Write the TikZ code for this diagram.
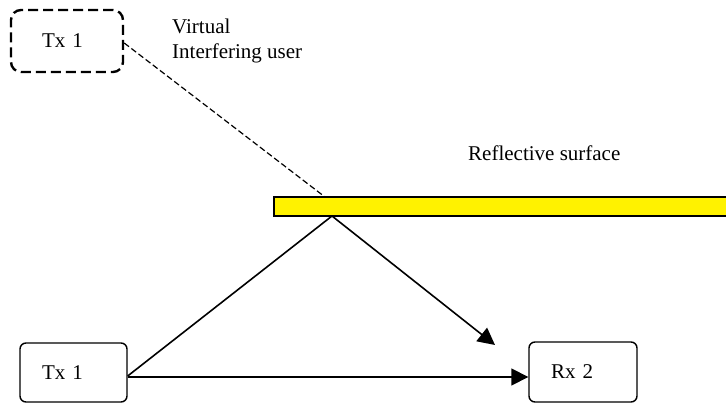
\documentclass[tikz,border=0pt]{standalone}
\usepackage{fontspec}
\setmainfont{Liberation Serif}
\usetikzlibrary{arrows.meta}

\tikzset{
  station/.style={draw, line width=1.4pt, rounded corners=6pt, align=left,
    inner xsep=22pt, inner ysep=0pt, font=\fontsize{21}{25}\selectfont},
  ghost/.style={draw, line width=2.4pt, dash pattern=on 10pt off 5pt,
    rounded corners=10pt, align=left, inner xsep=31pt, inner ysep=0pt,
    font=\fontsize{21}{25}\selectfont},
  caption/.style={inner sep=0pt, align=left, font=\fontsize{21}{25}\selectfont},
  ray/.style={line width=1.6pt},
  dir/.style={ray, -{Triangle[length=17pt, width=17pt]}},
  mirror/.style={fill=yellow, draw=black, line width=1.4pt}
}

\begin{document}
\begin{tikzpicture}[x=1pt, y=-1pt]
  \useasboundingbox (0,0) rectangle (726,403);

  % reflective surface (runs off the right edge)
  \fill[yellow] (274,197) rectangle (726,216);
  \draw[line width=1.4pt] (726,197) -- (274,197) -- (274,216) -- (726,216);
  \coordinate (refl) at (332,216);
  \coordinate (hit) at (325,197);
  \coordinate (rxin) at (495,345);

  % transmitters, receiver and the mirrored transmitter
  \node[station, minimum width=107pt, minimum height=59pt, text width=63pt]
    (tx) at (73.5,372.5) {Tx 1};
  \node[station, minimum width=108pt, minimum height=60pt, text width=64pt]
    (rx) at (583,372) {Rx 2};
  \node[ghost, minimum width=112pt, minimum height=62pt, text width=50pt]
    (vtx) at (67,41) {Tx 1};

  % labels
  \node[caption, anchor=north west] (vlabel) at (172,18.7) {Virtual\\Interfering user};
  \node[caption, anchor=base west] (slabel) at (468,161) {Reflective surface};

  % propagation paths
  \draw[ray] ([yshift=-3.5pt]tx.east) -- (refl);
  \draw[dir] ([yshift=-4.5pt]tx.east) -- ([yshift=-5pt]rx.west);
  \draw[dir] (refl) -- (rxin);
  \draw[line width=1.2pt, dash pattern=on 6pt off 3pt] ([yshift=-2pt]vtx.east) -- (hit);
\end{tikzpicture}
\end{document}
